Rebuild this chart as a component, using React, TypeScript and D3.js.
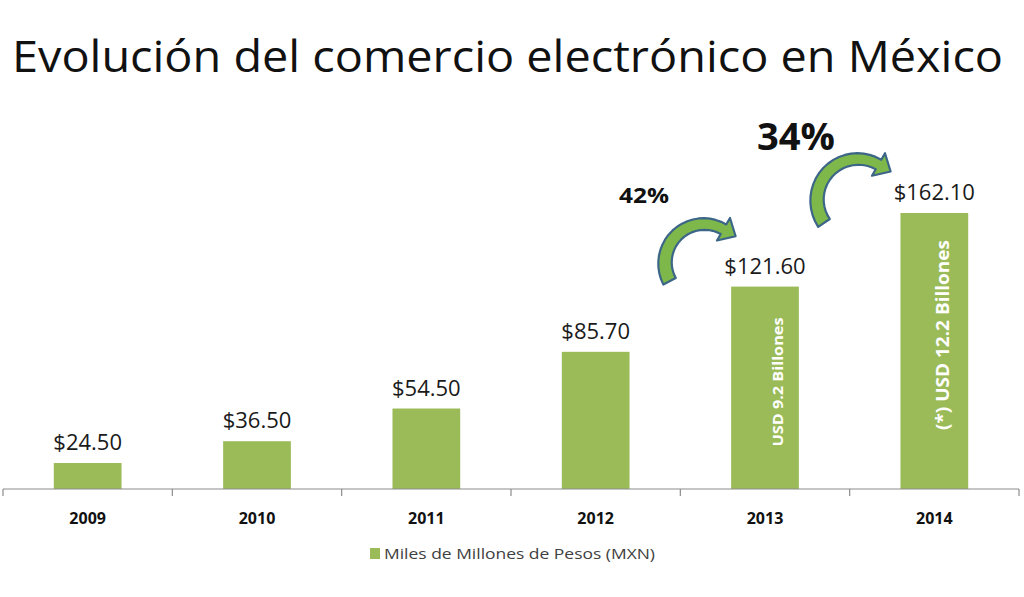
import React from 'react';
import * as d3 from 'd3';

// chart data
const years = ['2009', '2010', '2011', '2012', '2013', '2014'];
const values = [24.5, 36.5, 54.5, 85.7, 121.6, 162.1];
const valueLabels = ['$24.50', '$36.50', '$54.50', '$85.70', '$121.60', '$162.10'];
const barNotes = ['', '', '', '', 'USD 9.2 Billones', '(*) USD 12.2 Billones'];
const growthLabels = ['42%', '34%'];
const legendLabel = 'Miles de Millones de Pesos (MXN)';
const title = 'Evolución del comercio electrónico en México';

const W = 1024;
const H = 597;
const BAR = '#9bbb59';

// thick curved arrow built along an arc
function curvedArrow(cx: number, cy: number, r: number, a0: number, a1: number, w0: number, w1: number, hw: number, hl: number) {
  const rad = (d: number) => (d * Math.PI) / 180;
  const steps = d3.range(0, 21).map((i) => i / 20);
  const outer: [number, number][] = [];
  const inner: [number, number][] = [];
  steps.forEach((t) => {
    const a = rad(a0 + (a1 - a0) * t);
    const w = w0 + (w1 - w0) * t;
    outer.push([cx + (r + w / 2) * Math.cos(a), cy + (r + w / 2) * Math.sin(a)]);
    inner.push([cx + (r - w / 2) * Math.cos(a), cy + (r - w / 2) * Math.sin(a)]);
  });
  const ae = rad(a1);
  const tx = -Math.sin(ae);
  const ty = Math.cos(ae);
  const bx = cx + r * Math.cos(ae);
  const by = cy + r * Math.sin(ae);
  const headOuter: [number, number] = [cx + (r + hw / 2) * Math.cos(ae), cy + (r + hw / 2) * Math.sin(ae)];
  const headInner: [number, number] = [cx + (r - hw / 2) * Math.cos(ae), cy + (r - hw / 2) * Math.sin(ae)];
  const tip: [number, number] = [bx + hl * tx, by + hl * ty];
  const pts = [...outer, headOuter, tip, headInner, ...inner.reverse()];
  return d3.line()(pts) + 'Z';
}

export default function App() {
  const x = d3.scaleBand<string>().domain(years).range([3, 1019]).paddingInner(0.6).paddingOuter(0.3);
  const y = d3.scaleLinear().domain([10.2, 162.1]).range([489, 213]);
  const step = x.step();
  const base = y.range()[0];

  const arrows = [
    { cx: 704, cy: 263, r: 39, a0: 152, a1: 300 },
    { cx: 858, cy: 200, r: 41, a0: 146, a1: 300 },
  ];

  return (
    <svg width={W} height={H} style={{ position: 'absolute', left: 0, top: 0, background: '#fff' }} fontFamily="'Open Sans', sans-serif">
      <rect width={W} height={H} fill="#fff" />
      <text x={12} y={72} fontSize={44} fill="#111" textLength={991} lengthAdjust="spacingAndGlyphs">
        {title}
      </text>

      {years.map((yr, i) => {
        const bx = x(yr)!;
        const bw = x.bandwidth();
        const top = y(values[i]);
        return (
          <g key={yr}>
            <rect x={bx} y={top} width={bw} height={base - top} fill={BAR} />
            <text x={bx + bw / 2} y={top - 13} textAnchor="middle" fontSize={22} fill="#1a1a1a">
              {valueLabels[i]}
            </text>
            <text x={bx + bw / 2} y={524} textAnchor="middle" fontSize={16} fontWeight="bold" fill="#111">
              {yr}
            </text>
          </g>
        );
      })}

      {/* rotated notes inside the last bars */}
      <text
        transform={`translate(${x('2013')! + x.bandwidth() / 2 + 18},${382}) rotate(-90)`}
        textAnchor="middle"
        fontSize={15}
        fontWeight="bold"
        fill="#fff"
        textLength={129}
        lengthAdjust="spacingAndGlyphs"
      >
        {barNotes[4]}
      </text>
      <text
        transform={`translate(${x('2014')! + x.bandwidth() / 2 + 15},${335}) rotate(-90)`}
        textAnchor="middle"
        fontSize={18}
        fontWeight="bold"
        fill="#fff"
        textLength={190}
        lengthAdjust="spacingAndGlyphs"
      >
        {barNotes[5]}
      </text>

      {/* axis */}
      <line x1={3} x2={1019} y1={base} y2={base} stroke="#8c8c8c" strokeWidth={1.2} />
      {d3.range(0, years.length + 1).map((i) => (
        <line key={i} x1={3 + i * step} x2={3 + i * step} y1={base} y2={base + 7} stroke="#8c8c8c" strokeWidth={1.2} />
      ))}

      {/* growth arrows */}
      {arrows.map((a, i) => (
        <path
          key={i}
          d={curvedArrow(a.cx, a.cy, a.r, a.a0, a.a1, 14, 11, 26, 14)}
          fill="#7fb84a"
          stroke="#3c6688"
          strokeWidth={2.2}
          strokeLinejoin="round"
        />
      ))}
      <text x={644} y={203} textAnchor="middle" fontSize={21} fontWeight="bold" fill="#111" textLength={50} lengthAdjust="spacingAndGlyphs">
        {growthLabels[0]}
      </text>
      <text x={796} y={150} textAnchor="middle" fontSize={37} fontWeight="bold" fill="#111" textLength={78} lengthAdjust="spacingAndGlyphs">
        {growthLabels[1]}
      </text>

      {/* legend */}
      <rect x={370} y={548} width={10} height={11} fill={BAR} />
      <text x={384} y={559} fontSize={15} fill="#404040" textLength={271} lengthAdjust="spacingAndGlyphs">
        {legendLabel}
      </text>
    </svg>
  );
}
